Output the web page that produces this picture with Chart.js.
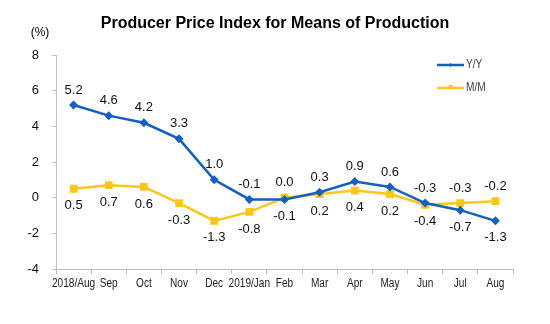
<!DOCTYPE html>
<html>
<head>
<meta charset="utf-8">
<style>
  html, body { margin: 0; padding: 0; background: #ffffff; }
  #wrap { width: 550px; height: 324px; position: relative; }
</style>
<script src="https://cdn.jsdelivr.net/npm/chart.js@4/dist/chart.umd.min.js"></script>
</head>
<body>
<div id="wrap"><canvas id="ppi" width="550" height="324"></canvas></div>
<script>
// Months covered by the index
const categories = ['2018/Aug', 'Sep', 'Oct', 'Nov', 'Dec', '2019/Jan', 'Feb', 'Mar', 'Apr', 'May', 'Jun', 'Jul', 'Aug'];
// Year-on-year change, %
const yoyValues = [5.2, 4.6, 4.2, 3.3, 1.0, -0.1, -0.1, 0.3, 0.9, 0.6, -0.3, -0.7, -1.3];
// Month-on-month change, %
const momValues = [0.5, 0.7, 0.6, -0.3, -1.3, -0.8, 0.0, 0.2, 0.4, 0.2, -0.4, -0.3, -0.2];
// Value axis
const yTicks = [-4, -2, 0, 2, 4, 6, 8];

const BLUE = '#1460BE';
const GOLD = '#FFC61A';
const FONT = '"Liberation Sans", Arial, sans-serif';

// Which side of each point its value label sits on
const yoyLabelSide = ['up', 'up', 'up', 'up', 'up', 'up', 'down', 'up', 'up', 'up', 'up', 'down', 'down'];
const momLabelSide = ['down', 'down', 'down', 'down', 'down', 'down', 'up', 'down', 'down', 'down', 'down', 'up', 'up'];

const fmt = v => v.toFixed(1);

// Text squeezed horizontally, for the condensed month labels and legend
function condensedText(ctx, text, x, y, squeeze) {
  ctx.save();
  ctx.translate(x, y);
  ctx.scale(squeeze, 1);
  ctx.fillText(text, 0, 0);
  ctx.restore();
}

// Draws title, unit, month labels, legend and the value labels next to the points
const decorations = {
  id: 'decorations',
  afterDatasetsDraw(chart) {
    const ctx = chart.ctx;
    ctx.save();
    // title
    ctx.fillStyle = '#000000';
    ctx.font = 'bold 16px ' + FONT;
    ctx.textAlign = 'center';
    ctx.textBaseline = 'middle';
    ctx.fillText('Producer Price Index for Means of Production', 275, 24);
    // unit
    ctx.font = '12px ' + FONT;
    ctx.fillText('(%)', 40, 33);

    // month labels under the category axis
    const xs = chart.scales.x;
    ctx.font = '12px ' + FONT;
    ctx.fillStyle = '#222222';
    categories.forEach((c, i) => {
      condensedText(ctx, c, xs.getPixelForTick(i), 284, 0.84);
    });

    // value labels
    ctx.font = '13px ' + FONT;
    ctx.fillStyle = '#111111';
    const sides = [yoyLabelSide, momLabelSide];
    chart.data.datasets.forEach((ds, di) => {
      const meta = chart.getDatasetMeta(di);
      meta.data.forEach((pt, i) => {
        const up = sides[di][i] === 'up';
        ctx.fillText(fmt(ds.data[i]), pt.x, up ? pt.y - 15 : pt.y + 17);
      });
    });

    // legend
    const items = [
      { label: 'Y/Y', color: BLUE, y: 65, marker: 'diamond' },
      { label: 'M/M', color: GOLD, y: 88, marker: 'square' }
    ];
    ctx.font = '12px ' + FONT;
    items.forEach(it => {
      ctx.strokeStyle = it.color;
      ctx.lineWidth = 2.5;
      ctx.beginPath();
      ctx.moveTo(437, it.y);
      ctx.lineTo(464, it.y);
      ctx.stroke();
      ctx.fillStyle = it.color;
      if (it.marker === 'square') {
        ctx.fillRect(448.5, it.y - 3, 4, 4);
      } else {
        ctx.beginPath();
        ctx.moveTo(450.5, it.y - 2);
        ctx.lineTo(452.5, it.y);
        ctx.lineTo(450.5, it.y + 2);
        ctx.lineTo(448.5, it.y);
        ctx.closePath();
        ctx.fill();
      }
      ctx.fillStyle = '#404040';
      ctx.textAlign = 'left';
      condensedText(ctx, it.label, 466, it.y, 0.84);
    });
    ctx.restore();
  }
};

new Chart(document.getElementById('ppi'), {
  type: 'line',
  data: {
    labels: categories,
    datasets: [
      {
        label: 'Y/Y',
        data: yoyValues,
        borderColor: BLUE,
        backgroundColor: BLUE,
        borderWidth: 2.5,
        pointStyle: 'rectRot',
        pointRadius: 4.5,
        pointBorderWidth: 0,
        tension: 0
      },
      {
        label: 'M/M',
        data: momValues,
        borderColor: GOLD,
        backgroundColor: GOLD,
        borderWidth: 2.5,
        pointStyle: 'rect',
        pointRadius: 5.5,
        pointBorderWidth: 0,
        tension: 0
      }
    ]
  },
  options: {
    responsive: false,
    animation: false,
    devicePixelRatio: 1,
    layout: { padding: { top: 55, right: 37, left: 0, bottom: 0 } },
    plugins: {
      legend: { display: false },
      tooltip: { enabled: false },
      title: { display: false }
    },
    scales: {
      x: {
        type: 'category',
        offset: true,
        grid: {
          offset: true,
          drawOnChartArea: false,
          drawTicks: true,
          tickLength: 5,
          color: '#BFBFBF'
        },
        border: { color: '#BFBFBF', width: 1 },
        ticks: { display: false, autoSkip: false },
        afterFit(scale) { scale.height = 55; }
      },
      y: {
        min: -4,
        max: 8,
        afterBuildTicks(scale) { scale.ticks = yTicks.map(v => ({ value: v })); },
        grid: {
          drawOnChartArea: false,
          drawTicks: true,
          tickLength: 4,
          color: '#BFBFBF'
        },
        border: { color: '#BFBFBF', width: 1 },
        ticks: {
          color: '#111111',
          font: { family: FONT, size: 13 },
          padding: 13
        },
        afterFit(scale) { scale.width = 56; }
      }
    }
  },
  plugins: [decorations]
});
</script>
</body>
</html>
